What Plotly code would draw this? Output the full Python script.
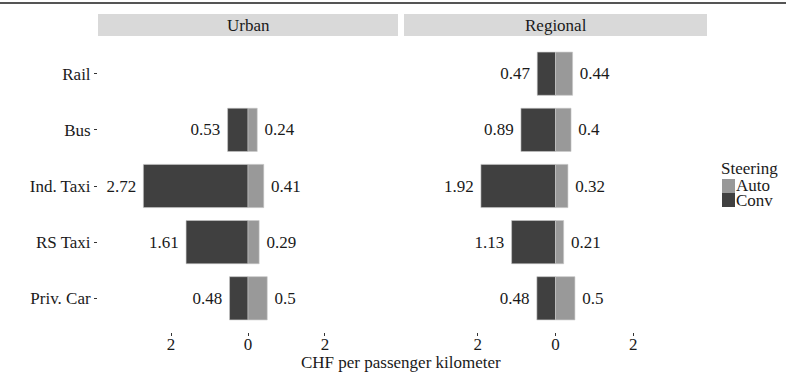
import plotly.graph_objects as go

categories = ["Rail", "Bus", "Ind. Taxi", "RS Taxi", "Priv. Car"]
facets = ["Urban", "Regional"]
urban_conv = [None, 0.53, 2.72, 1.61, 0.48]
urban_auto = [None, 0.24, 0.41, 0.29, 0.5]
regional_conv = [0.47, 0.89, 1.92, 1.13, 0.48]
regional_auto = [0.44, 0.4, 0.32, 0.21, 0.5]
series_names = ["Auto", "Conv"]
legend_title = "Steering"
x_ticks = [-2, 0, 2]
x_ticktext = ["2", "0", "2"]
x_title = "CHF per passenger kilometer"

COL_CONV = "#404040"
COL_AUTO = "#999999"
FONT = "Liberation Serif, Times New Roman, Times, serif"
TXT = "#1a1a1a"
NB = "\u00a0"

W, H = 786, 379
def px(x): return x / W
def py(y): return 1 - y / H

fig = go.Figure()
data = [(urban_conv, urban_auto), (regional_conv, regional_auto)]
for i, (conv, auto) in enumerate(data):
    xa = "x" if i == 0 else "x2"
    conv_neg = [(-v if v is not None else None) for v in conv]
    fig.add_trace(go.Bar(
        y=categories, x=conv_neg, orientation="h", name="Conv",
        marker=dict(color=COL_CONV, line=dict(color="#c8c8c8", width=0.6)),
        text=[(f"{v:g}{NB}" if v is not None else "") for v in conv],
        textposition="outside", cliponaxis=False,
        textfont=dict(family=FONT, size=17, color=TXT),
        width=0.77, xaxis=xa, yaxis="y", showlegend=False, hoverinfo="skip"))
    fig.add_trace(go.Bar(
        y=categories, x=auto, orientation="h", name="Auto",
        marker=dict(color=COL_AUTO, line=dict(color="#c8c8c8", width=0.6)),
        text=[(f"{NB}{v:g}" if v is not None else "") for v in auto],
        textposition="outside", cliponaxis=False,
        textfont=dict(family=FONT, size=17, color=TXT),
        width=0.77, xaxis=xa, yaxis="y", showlegend=False, hoverinfo="skip"))

xcommon = dict(range=[-3.9, 3.9], tickvals=x_ticks, ticktext=x_ticktext,
               ticks="outside", ticklen=3, tickcolor="#333333", tickwidth=1,
               showgrid=False, zeroline=False, showline=False,
               ticklabelstandoff=-6,
               tickfont=dict(family=FONT, size=17, color=TXT), anchor="y")
fig.update_layout(
    width=W, height=H, margin=dict(l=0, r=0, t=0, b=0),
    paper_bgcolor="white", plot_bgcolor="white", barmode="overlay",
    xaxis=dict(domain=[px(98), px(398)], **xcommon),
    xaxis2=dict(domain=[px(404), px(707)], **xcommon),
    yaxis=dict(domain=[py(332), py(40)], type="category",
               categoryorder="array", categoryarray=categories,
               range=[4.6, -0.6], ticks="outside", ticklen=3,
               tickcolor="#333333", showgrid=False, zeroline=False,
               showline=False, anchor="x",
               tickfont=dict(family=FONT, size=17, color=TXT)),
    showlegend=False,
)

shapes = [
    dict(type="line", xref="paper", yref="paper", x0=0, x1=1, y0=py(3), y1=py(3),
         line=dict(color="#555555", width=2)),
    dict(type="rect", xref="paper", yref="paper", x0=px(98), x1=px(398),
         y0=py(36), y1=py(14), fillcolor="#d9d9d9", line=dict(width=0), layer="below"),
    dict(type="rect", xref="paper", yref="paper", x0=px(404), x1=px(707),
         y0=py(36), y1=py(14), fillcolor="#d9d9d9", line=dict(width=0), layer="below"),
    dict(type="rect", xref="paper", yref="paper", x0=px(722), x1=px(735),
         y0=py(193), y1=py(179), fillcolor=COL_AUTO, line=dict(width=0)),
    dict(type="rect", xref="paper", yref="paper", x0=px(722), x1=px(735),
         y0=py(207), y1=py(193), fillcolor=COL_CONV, line=dict(width=0)),
]
def ann(text, x, y, xanchor="center"):
    return dict(text=text, x=px(x), y=py(y), xref="paper", yref="paper",
                xanchor=xanchor, yanchor="middle", showarrow=False,
                font=dict(family=FONT, size=17, color=TXT))
annotations = [
    ann(facets[0], 248, 25),
    ann(facets[1], 555.5, 25),
    ann(x_title, 401, 362),
    ann(legend_title, 719, 168, "left"),
    ann(series_names[0], 734, 185, "left"),
    ann(series_names[1], 734, 200, "left"),
]
fig.update_layout(shapes=shapes, annotations=annotations)
fig.write_html("out.html", config={"displayModeBar": False},
               post_script="document.body.style.margin='0';document.body.style.overflow='hidden';")
